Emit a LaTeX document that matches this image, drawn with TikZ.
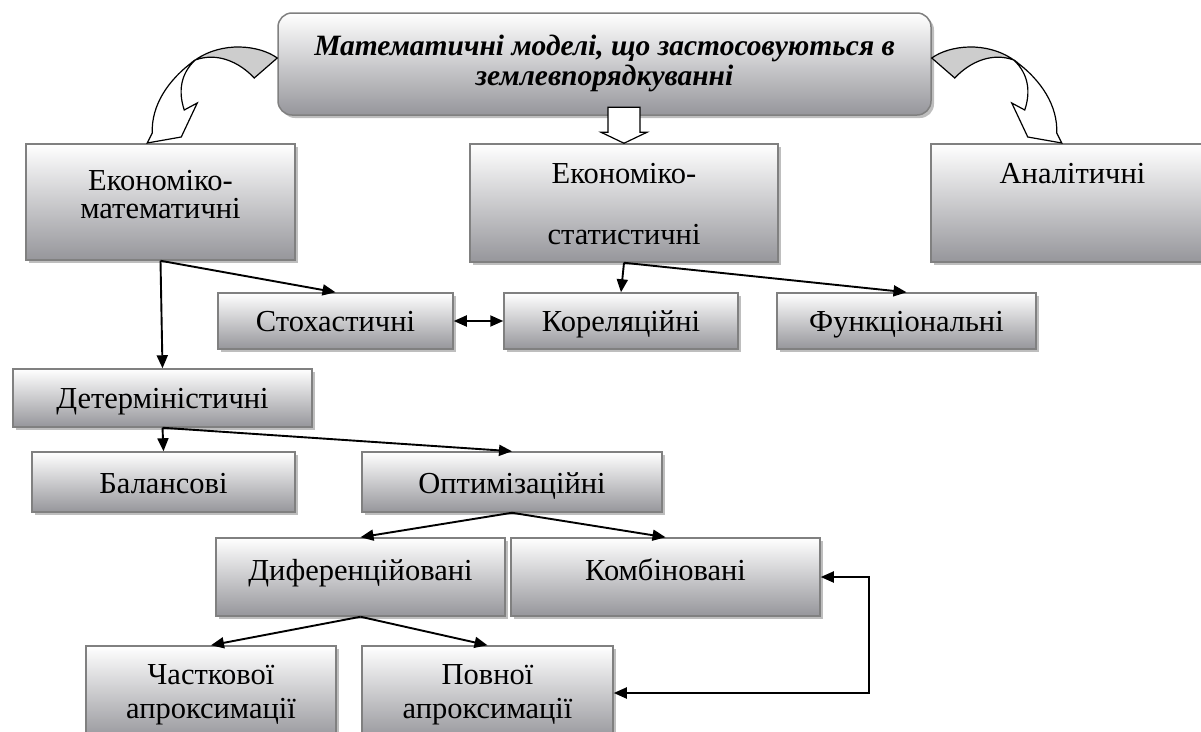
\documentclass[tikz,border=0pt]{standalone}
\usepackage{fontspec}
\setmainfont{Liberation Serif}
\usepackage{tikz}
\usetikzlibrary{arrows.meta,shadows}

\definecolor{boxline}{RGB}{128,128,128}
\definecolor{boxbot}{RGB}{150,150,155}
\definecolor{shadegray}{RGB}{190,190,190}
\definecolor{ribbon}{RGB}{205,205,205}
\newcommand{\twoln}[3][0pt]{\begin{tabular}[t]{@{}c@{}}#2\\[#1]#3\end{tabular}}

\begin{document}
\begin{tikzpicture}[x=1pt,y=-1pt,>={Triangle[length=13pt,width=11pt]},
    box/.style={draw=boxline,line width=1.5pt,inner sep=0pt,top color=white,bottom color=boxbot,
        drop shadow={shadow xshift=3pt,shadow yshift=-3pt,fill=shadegray,opacity=1},
        font=\fontsize{30.5}{27}\selectfont},
    conn/.style={line width=1.9pt},
    hollow/.style={draw=black,line width=1.2pt,fill=white},
    curvarr/.pic={
        \draw[line width=1.2pt,fill=ribbon] (0,0) .. controls (-18,-13) and (-55,-17) .. (-82,2)
            .. controls (-60,-6) and (-38,4) .. (-23,20) -- cycle;
        \draw[hollow] (-82,2) .. controls (-110,22) and (-126,48) .. (-125,75) -- (-130,85) -- (-96,79)
            -- (-80,45) -- (-93,52) .. controls (-99,34) and (-97,16) .. (-82,2) -- cycle;
    }]
    \useasboundingbox (0,0) rectangle (1201,731);
    \clip (0,0) rectangle (1201,731);

    \node[box,rounded corners=14pt,minimum width=653pt,minimum height=102pt,text height=42pt,text depth=60pt,
        font=\fontsize{29.5}{30}\selectfont\bfseries\itshape] (top) at (604.5,64)
        {\twoln{Математичні моделі, що застосовуються в}{землевпорядкуванні}};

    \node[box,minimum width=269pt,minimum height=116pt,text height=46pt,text depth=70pt] (ecomath) at (160.5,202)
        {\twoln{Економіко-}{математичні}};
    \node[box,minimum width=308pt,minimum height=118pt,text height=39pt,text depth=79pt] (ecostat) at (624,203)
        {\twoln[33pt]{Економіко-}{статистичні}};
    \node[box,minimum width=283pt,minimum height=118pt,text height=39pt,text depth=79pt] (analyt) at (1072.5,203) {Аналітичні};

    \node[box,minimum width=235pt,minimum height=56pt,text height=38pt,text depth=18pt] (stoch) at (335.5,321) {Стохастичні};
    \node[box,minimum width=234pt,minimum height=56pt,text height=38pt,text depth=18pt] (korel) at (621,321) {Кореляційні};
    \node[box,minimum width=259pt,minimum height=56pt,text height=38pt,text depth=18pt] (funkc) at (906.5,321) {Функціональні};

    \node[box,minimum width=299pt,minimum height=58pt,text height=39pt,text depth=19pt] (determ) at (162.5,398) {Детерміністичні};

    \node[box,minimum width=263pt,minimum height=60pt,text height=41pt,text depth=19pt] (balans) at (163.5,482) {Балансові};
    \node[box,minimum width=300pt,minimum height=60pt,text height=41pt,text depth=19pt] (optim) at (512,482) {Оптимізаційні};

    \node[box,minimum width=289pt,minimum height=78pt,text height=42pt,text depth=36pt] (difer) at (360.5,577) {Диференційовані};
    \node[box,minimum width=309pt,minimum height=78pt,text height=42pt,text depth=36pt] (kombi) at (665.5,577) {Комбіновані};

    \node[box,minimum width=250pt,minimum height=94pt,text height=38pt,text depth=56pt] (chastk) at (211,693)
        {\twoln[6pt]{Часткової}{апроксимації}};
    \node[box,minimum width=251pt,minimum height=94pt,text height=38pt,text depth=56pt] (povni) at (487.5,693)
        {\twoln[6pt]{Повної}{апроксимації}};

    \pic at ([yshift=6pt]top.west) {curvarr};
    \pic[xscale=-1] at ([yshift=6pt]top.east) {curvarr};
    \draw[hollow] (ecostat.north) -- ++(23,-11) -- ++(-7,0) -- ++(0,-25) -- ++(-32,0) -- ++(0,25) -- ++(-7,0) -- cycle;

    \draw[conn,->] (ecomath.south) -- (determ.north);
    \draw[conn,->] (ecomath.south) -- (stoch.north);
    \draw[conn,->] (ecostat.south) -- (korel.north);
    \draw[conn,->] (ecostat.south) -- (funkc.north);
    \draw[conn,<->] (stoch.east) -- (korel.west);
    \draw[conn,->] (determ.south) -- (balans.north);
    \draw[conn,->] (determ.south) -- (optim.north);
    \draw[conn,->] (optim.south) -- (difer.north);
    \draw[conn,->] (optim.south) -- (kombi.north);
    \draw[conn,->] (difer.south) -- (chastk.north);
    \draw[conn,->] (difer.south) -- (povni.north);
    \draw[conn,<->] (kombi.east) -- ++(48,0) |- (povni.east);
\end{tikzpicture}
\end{document}
